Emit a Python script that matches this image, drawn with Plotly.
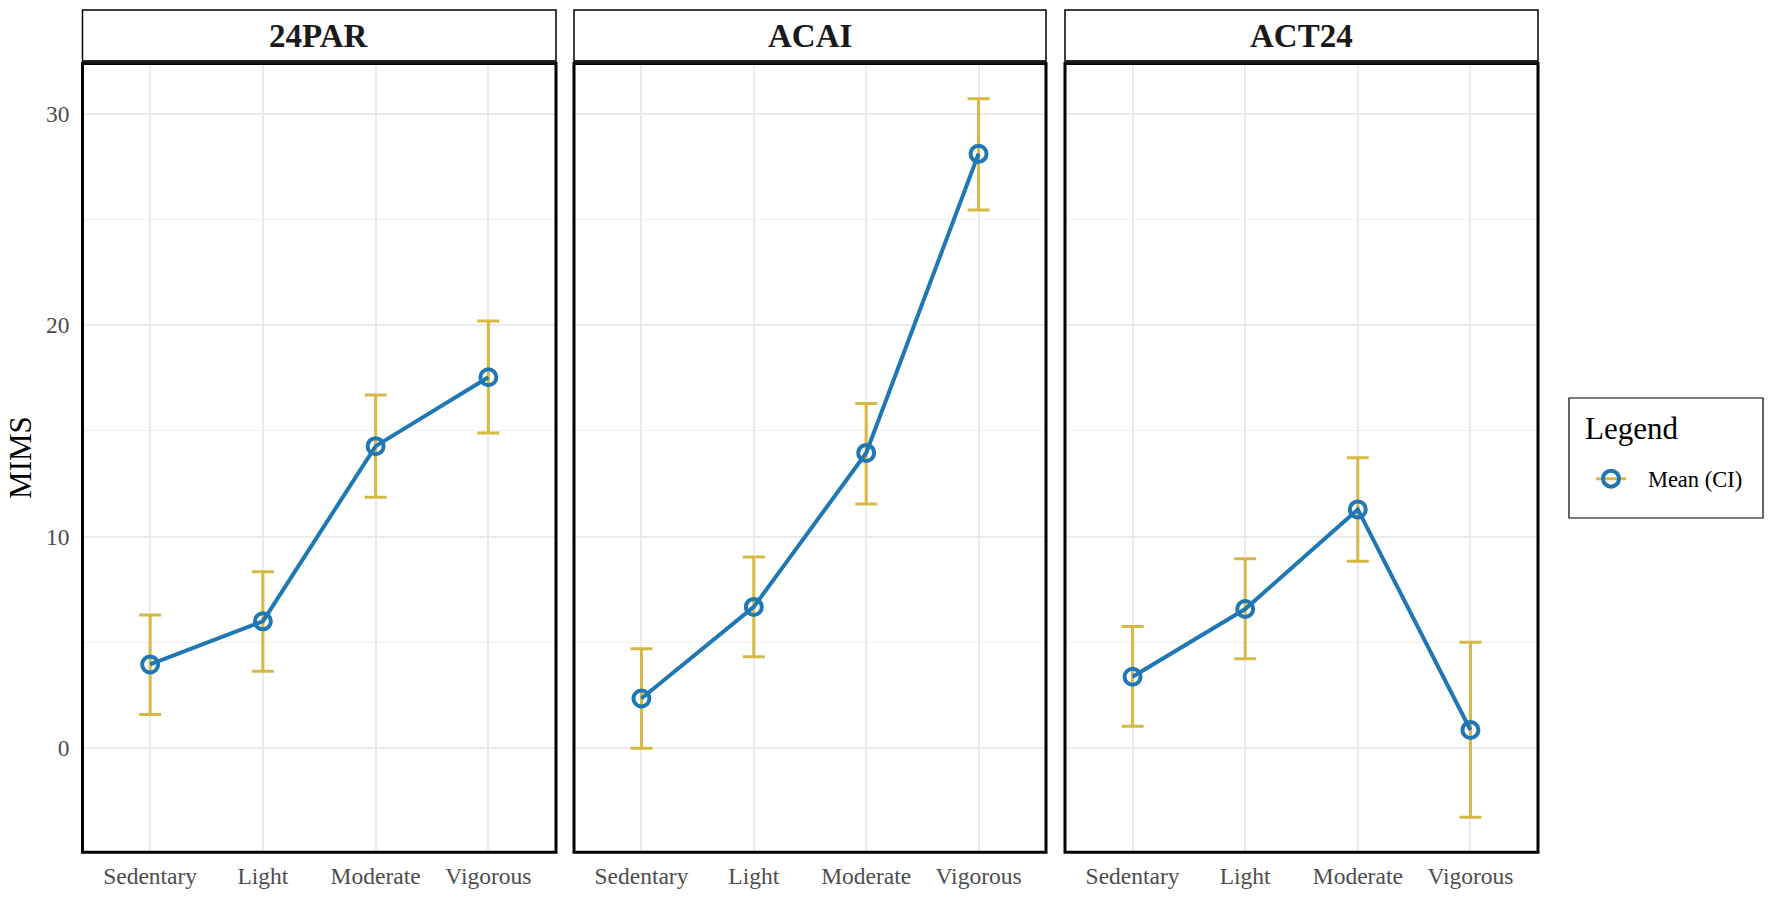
import plotly.graph_objects as go

W, H = 1772, 897

instruments = ["24PAR", "ACAI", "ACT24"]
categories = ["Sedentary", "Light", "Moderate", "Vigorous"]
mean_24par = [3.96, 6.0, 14.28, 17.54]
upper_24par = [6.3, 8.34, 16.7, 20.2]
lower_24par = [1.6, 3.64, 11.87, 14.9]
mean_acai = [2.35, 6.68, 13.96, 28.1]
upper_acai = [4.7, 9.04, 16.3, 30.7]
lower_acai = [0.0, 4.33, 11.55, 25.45]
mean_act24 = [3.38, 6.58, 11.29, 0.86]
upper_act24 = [5.75, 8.96, 13.73, 5.01]
lower_act24 = [1.04, 4.23, 8.84, -3.26]
y_ticks = [0, 10, 20, 30]

series = {
    "24PAR": (mean_24par, upper_24par, lower_24par),
    "ACAI": (mean_acai, upper_acai, lower_acai),
    "ACT24": (mean_act24, upper_act24, lower_act24),
}

BLUE = "#1F78B4"
GOLD = "#D6B845"
FONT = "Liberation Serif"

panels_px = [(82.5, 556), (574, 1046), (1065, 1538)]
top_px, bot_px = 63.5, 852.3
strip_top_px, strip_bot_px = 10, 61

fig = go.Figure()

for i, name in enumerate(instruments):
    m, u, l = series[name]
    xa = "x" if i == 0 else f"x{i+1}"
    ya = "y" if i == 0 else f"y{i+1}"
    fig.add_trace(go.Scatter(
        x=categories, y=m, mode="markers", xaxis=xa, yaxis=ya,
        marker=dict(size=0.1, color="rgba(0,0,0,0)"),
        error_y=dict(type="data", symmetric=False,
                     array=[uu - mm for uu, mm in zip(u, m)],
                     arrayminus=[mm - ll for mm, ll in zip(m, l)],
                     color=GOLD, thickness=3, width=11),
        showlegend=False, hoverinfo="skip"))
    fig.add_trace(go.Scatter(
        x=categories, y=m, mode="lines+markers", xaxis=xa, yaxis=ya,
        line=dict(color=BLUE, width=4),
        marker=dict(symbol="circle-open", size=16, color=BLUE,
                    line=dict(width=4, color=BLUE)),
        showlegend=False))

fig.add_trace(go.Scatter(
    x=[None], y=[None], mode="lines+markers",
    name="\u00a0\u00a0\u00a0Mean (CI)",
    line=dict(color=GOLD, width=3),
    marker=dict(symbol="circle-open", size=16, color=BLUE,
                line=dict(width=4, color=BLUE)),
    showlegend=True))

ydom = [1 - bot_px / H, 1 - top_px / H]
layout = dict(
    width=W, height=H,
    margin=dict(l=0, r=0, t=0, b=0),
    paper_bgcolor="white", plot_bgcolor="white",
    font=dict(family=FONT, color="#4D4D4D"),
    showlegend=True,
    legend=dict(
        x=1591 / W, y=1 - 479 / H, xanchor="left", yanchor="middle",
        borderwidth=0, bgcolor="rgba(0,0,0,0)",
        font=dict(size=22.5, color="black", family=FONT),
        itemwidth=30, tracegroupgap=0,
    ),
)

shapes = []
annotations = []
for i, name in enumerate(instruments):
    l, r = panels_px[i]
    sfx = "" if i == 0 else str(i + 1)
    layout["xaxis" + sfx] = dict(
        domain=[l / W, r / W], anchor="y" + sfx,
        type="category", categoryorder="array", categoryarray=categories,
        range=[-0.6, 3.6], showgrid=True, gridcolor="#EBEBEB", gridwidth=2.2,
        zeroline=False, ticks="", ticklabelstandoff=7,
        tickfont=dict(size=23.5, color="#4D4D4D", family=FONT), fixedrange=True,
    )
    layout["yaxis" + sfx] = dict(
        domain=ydom, anchor="x" + sfx,
        range=[-4.92, 32.37], tickvals=y_ticks,
        showgrid=True, gridcolor="#EBEBEB", gridwidth=2.2,
        minor=dict(dtick=5, tick0=0, showgrid=True, gridcolor="#F0F0F0", gridwidth=1.1),
        zeroline=False, ticks="", ticklabelstandoff=12,
        showticklabels=(i == 0),
        tickfont=dict(size=23.5, color="#4D4D4D", family=FONT), fixedrange=True,
    )
    if i > 0:
        layout["yaxis" + sfx]["matches"] = "y"
    shapes.append(dict(type="rect", xref=f"x{sfx} domain", yref=f"y{sfx} domain",
                       x0=0, x1=1, y0=0, y1=1, line=dict(color="black", width=3),
                       fillcolor="rgba(0,0,0,0)", layer="above"))
    shapes.append(dict(type="rect", xref=f"x{sfx} domain", yref="paper",
                       x0=0, x1=1, y0=1 - strip_bot_px / H, y1=1 - strip_top_px / H,
                       line=dict(color="black", width=1.5), fillcolor="white", layer="above"))
    shapes.append(dict(type="line", xref=f"x{sfx} domain", yref="paper",
                       x0=0, x1=1, y0=1 - (strip_bot_px + 1) / H, y1=1 - (strip_bot_px + 1) / H,
                       line=dict(color="#1A1A1A", width=3), layer="above"))
    annotations.append(dict(
        text=f"<b>{name}</b>", xref=f"x{sfx} domain", yref="paper",
        x=0.5, y=1 - (strip_top_px + strip_bot_px) / 2 / H,
        xanchor="center", yanchor="middle", showarrow=False,
        font=dict(size=33, color="#1A1A1A", family=FONT)))

annotations.append(dict(
    text="MIMS", xref="paper", yref="paper", x=21 / W, y=(ydom[0] + ydom[1]) / 2,
    xanchor="center", yanchor="middle", textangle=-90, showarrow=False,
    font=dict(size=31, color="black", family=FONT)))

shapes.append(dict(type="rect", xref="paper", yref="paper",
                   x0=1569 / W, x1=1763 / W, y0=1 - 518 / H, y1=1 - 398 / H,
                   line=dict(color="black", width=1.2), fillcolor="rgba(0,0,0,0)"))
annotations.append(dict(
    text="Legend", xref="paper", yref="paper", x=1583 / W, y=1 - 428 / H,
    xanchor="left", yanchor="middle", showarrow=False,
    font=dict(size=31, color="black", family=FONT)))

layout["shapes"] = shapes
layout["annotations"] = annotations
fig.update_layout(**layout)
fig.write_html("out.html")
